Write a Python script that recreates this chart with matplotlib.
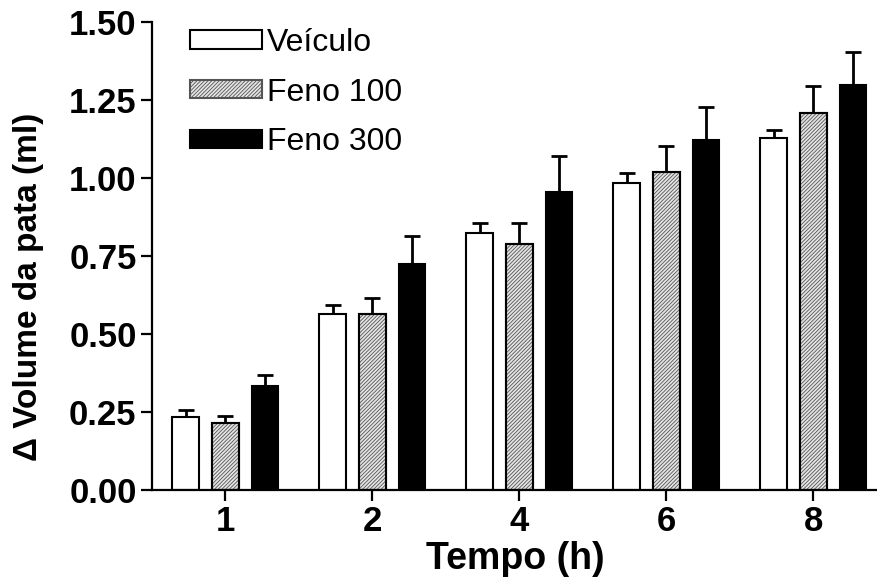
import matplotlib
matplotlib.use("Agg")
import matplotlib.pyplot as plt
import numpy as np

plt.rcParams['font.family'] = ['Liberation Sans', 'DejaVu Sans']
plt.rcParams['hatch.linewidth'] = 0.6

categories = ["1", "2", "4", "6", "8"]
series_names = ["Veículo", "Feno 100", "Feno 300"]
veiculo = [0.234, 0.565, 0.825, 0.985, 1.127]
veiculo_err = [0.022, 0.027, 0.030, 0.030, 0.028]
feno100 = [0.215, 0.565, 0.790, 1.018, 1.207]
feno100_err = [0.023, 0.050, 0.065, 0.085, 0.087]
feno300 = [0.333, 0.725, 0.955, 1.122, 1.297]
feno300_err = [0.037, 0.088, 0.115, 0.106, 0.107]

fig = plt.figure(figsize=(8.78, 5.88), dpi=100)
ax = fig.add_axes([0.173, 0.1667, 0.827, 0.7959])

x = np.arange(len(categories))
offs = [-0.27, 0.0, 0.27]
w = 0.18
vals = [veiculo, feno100, feno300]
errs = [veiculo_err, feno100_err, feno300_err]
styles = [dict(facecolor='white', edgecolor='black', hatch=None),
          dict(facecolor='#e4e4e4', edgecolor='#555555', hatch='/////////'),
          dict(facecolor='black', edgecolor='black', hatch=None)]

handles = []
for i in range(3):
    st = styles[i]
    b = ax.bar(x + offs[i], vals[i], w, color=st['facecolor'], edgecolor=st['edgecolor'],
               hatch=st['hatch'], linewidth=1.5, label=series_names[i], zorder=2)
    if i == 1:
        for r in b:
            ax.add_patch(plt.Rectangle(r.get_xy(), r.get_width(), r.get_height(),
                                       fill=False, edgecolor='black', linewidth=1.5, zorder=3))
    ax.errorbar(x + offs[i], vals[i], yerr=[np.zeros(len(x)), errs[i]], fmt='none',
                ecolor='black', elinewidth=2, capsize=6, capthick=2, zorder=1)
    handles.append(b)

ax.set_xlim(-0.5, 4.44)
ax.set_ylim(0, 1.5)
ax.set_yticks([0, 0.25, 0.5, 0.75, 1.0, 1.25, 1.5])
ax.set_yticklabels(["0.00", "0.25", "0.50", "0.75", "1.00", "1.25", "1.50"])
ax.set_xticks(x)
ax.set_xticklabels(categories)

for s in ['top', 'right']:
    ax.spines[s].set_visible(False)
for s in ['left', 'bottom']:
    ax.spines[s].set_linewidth(1.6)

ax.tick_params(axis='both', direction='out', length=8, width=1.6, labelsize=25, pad=3)
for lab in ax.get_xticklabels() + ax.get_yticklabels():
    lab.set_fontweight('bold')

ax.set_xlabel("Tempo (h)", fontsize=27, fontweight='bold', labelpad=2)
ax.set_ylabel("Δ Volume da pata (ml)", fontsize=24, fontweight='bold')
ax.yaxis.set_label_coords(-0.148, 0.433)

leg = ax.legend(handles=handles, labels=series_names, loc='upper left',
                bbox_to_anchor=(0.035, 1.015), frameon=False, fontsize=23,
                handlelength=2.25, handleheight=0.5, handletextpad=0.15,
                labelspacing=0.62, borderaxespad=0)

fig.savefig("out.png", dpi=100)
